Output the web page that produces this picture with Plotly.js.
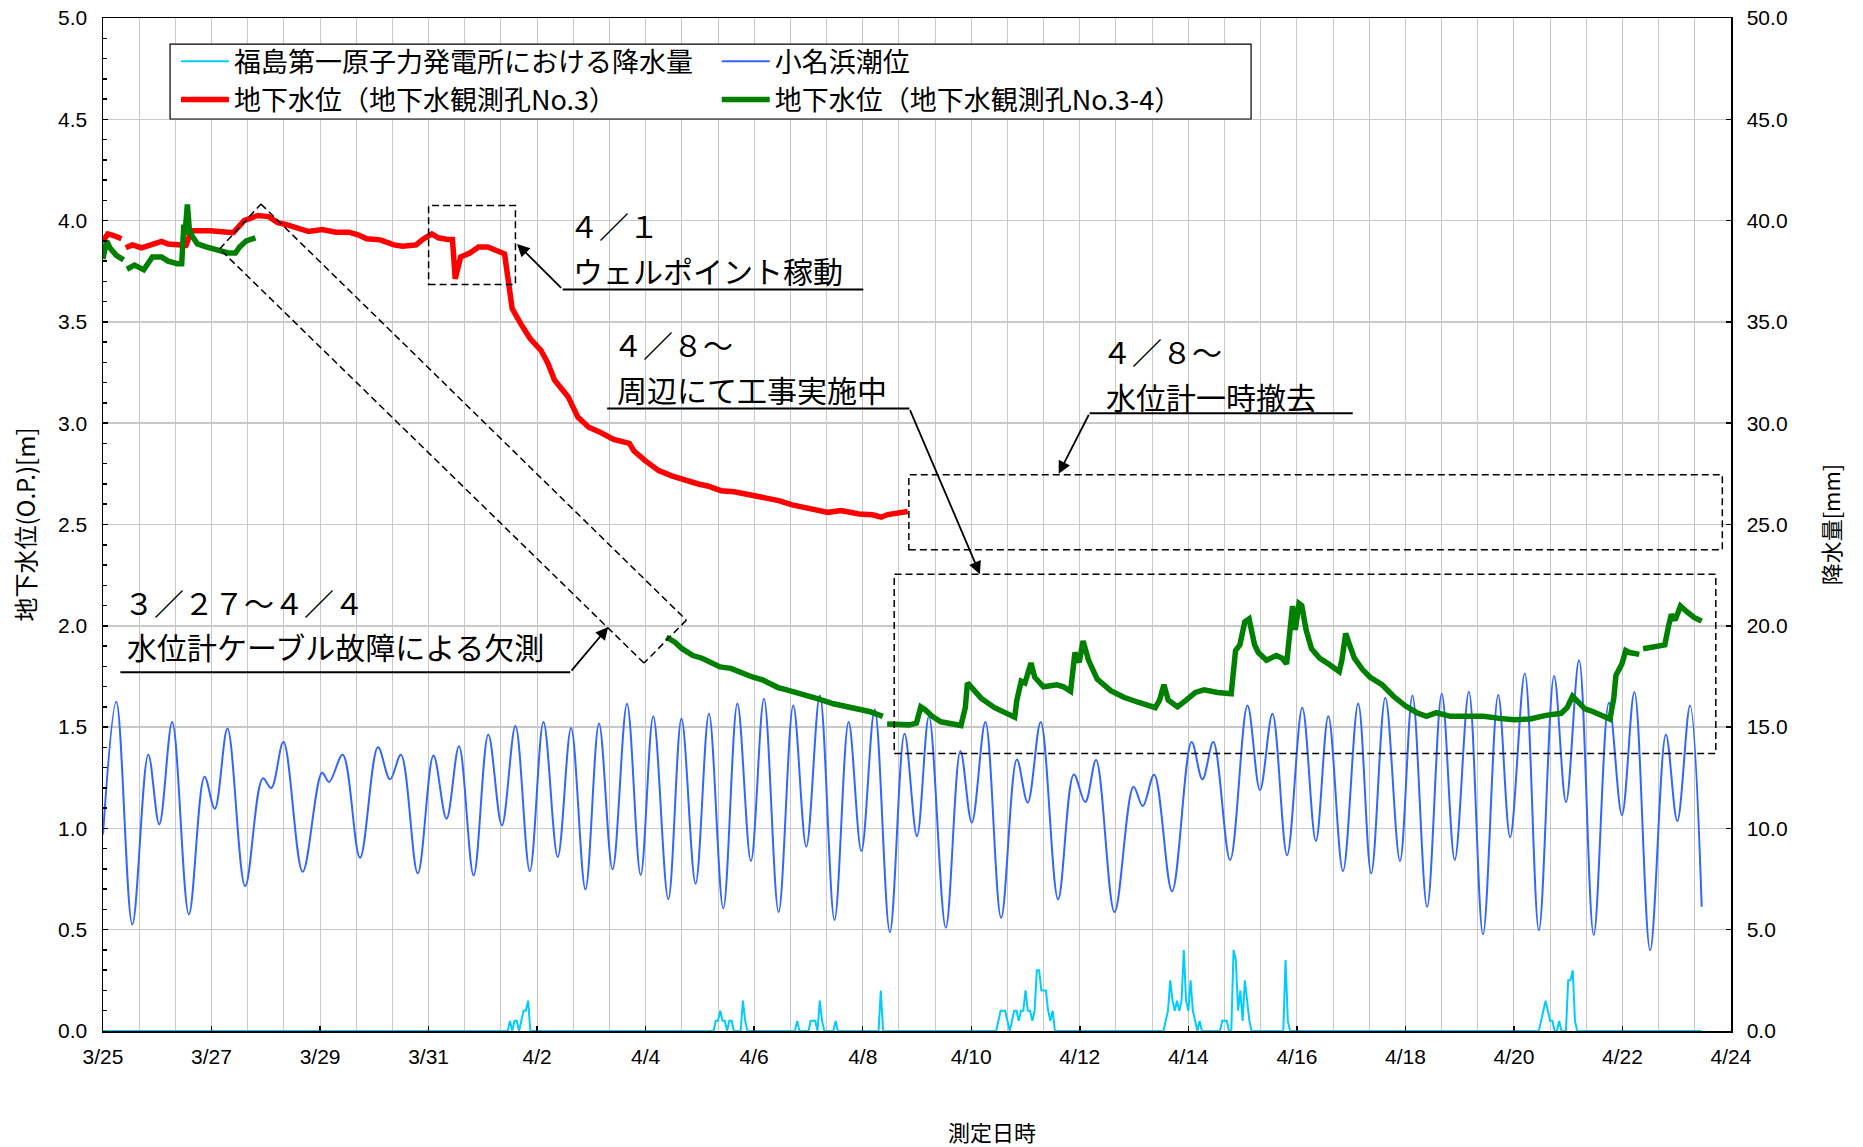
<!DOCTYPE html>
<html><head><meta charset="utf-8">
<script src="https://cdn.plot.ly/plotly-3.0.1.min.js"></script>
<style>html,body{margin:0;padding:0;background:#fff}#chart{width:1863px;height:1147px}</style>
</head><body><div id="chart"></div>
<script>
// ---- data (time in days since 2011-03-25 00:00, rain in hours) ----
const xTickDays = [0,2,4,6,8,10,12,14,16,18,20,22,24,26,28,30];
const xTickLabels = ['3/25','3/27','3/29','3/31','4/2','4/4','4/6','4/8','4/10','4/12','4/14','4/16','4/18','4/20','4/22','4/24'];

const rainHour = [0,
 179,180,181,182,183,184,185,186,187,188,189,
 270,271,272,273,274,275,276,277,278,279,282,283,284,285,
 306,307,308,312,313,314,315,316,317,318,319,323,324,325,
 343,344,345,
 395,396,397,398,399,400,401,402,403,404,405,406,407,408,409,410,411,412,413,414,415,416,417,418,419,420,421,
 469,470,471,472,473,474,475,476,477,478,479,480,481,482,483,484,485,486,
 494,495,496,497,498,499,500,501,502,503,504,505,506,507,508,
 522,523,524,525,
 635,636,637,638,639,640,641,642,643,644,645,646,647,648,649,650,651,652,
 707];
const rainMm = [0,
 0,0.5,0,0.5,0.5,0,0.5,1.0,1.0,1.5,0,
 0,0.5,0.5,1.0,0.5,0.5,0,0.5,0.5,0,0,1.5,0.5,0,
 0,0.5,0,0,0.5,0.5,0.5,0,1.5,0.5,0,0,0.5,0,
 0,2.0,0,
 0,0.5,1.0,1.0,1.0,0.5,0,0.5,1.0,1.0,0.5,1.0,1.0,2.0,1.0,1.0,0.5,1.0,3.0,3.0,2.0,2.0,2.0,1.0,0.5,1.0,0,
 0,0.5,1.0,2.5,1.5,1.0,1.5,1.0,1.5,4.0,1.5,1.0,2.5,1.0,0.5,0,0.5,0,
 0,0.5,0.5,0.5,0,0,4.0,3.5,1.0,2.0,0.5,2.5,1.5,0.5,0,
 0,3.5,0.5,0,
 0,0.5,1.0,1.5,1.0,0.5,0.5,0,0,0.5,0,0,0,2.5,2.5,3.0,0.5,0,
 0];

// tide: successive highs and lows
const tideDay = [0,0.245,0.54,0.834,1.037,1.276,1.583,1.871,2.06,2.294,2.62,2.945,3.10,3.325,3.68,4.037,4.166,4.417,4.736,5.067,
 5.29,5.49,5.80,6.09,6.33,6.56,6.83,7.10,7.35,7.60,7.865,8.117,8.38,8.626,8.89,9.14,9.39,9.656,9.908,10.14,
 10.417,10.66,10.92,11.166,11.43,11.69,11.94,12.18,12.45,12.72,12.96,13.21,13.48,13.74,13.975,14.22,14.50,14.77,15.0,15.22,
 15.53,15.80,16.01,16.26,16.55,16.84,17.04,17.28,17.60,17.89,18.10,18.30,18.64,18.99,19.16,19.37,19.70,20.06,20.26,20.46,
 20.77,21.09,21.32,21.55,21.82,22.10,22.35,22.58,22.85,23.13,23.37,23.63,23.90,24.13,24.40,24.67,24.91,25.17,25.43,25.71,
 25.93,26.20,26.46,26.74,26.96,27.2,27.47,27.75,27.99,28.22,28.51,28.80,29.01,29.245,29.46];
const tideLevel = [0.97,1.625,0.526,1.365,1.02,1.525,0.576,1.255,1.097,1.493,0.715,1.247,1.199,1.426,0.786,1.275,1.229,1.363,0.855,1.40,
 1.242,1.363,0.778,1.36,1.048,1.406,0.768,1.464,1.015,1.505,0.789,1.525,0.859,1.495,0.699,1.518,0.798,1.615,0.77,1.554,
 0.65,1.543,0.727,1.566,0.605,1.617,0.839,1.64,0.587,1.607,0.91,1.656,0.548,1.525,0.888,1.587,0.488,1.467,0.962,1.554,
 0.51,1.382,1.028,1.525,0.559,1.34,1.127,1.525,0.65,1.266,1.13,1.337,0.587,1.206,1.11,1.265,0.69,1.426,1.242,1.426,
 0.844,1.607,1.188,1.566,0.868,1.595,0.9375,1.554,0.789,1.617,0.778,1.645,0.839,1.656,0.613,1.664,0.844,1.674,0.477,1.658,
 0.957,1.765,0.497,1.752,1.13,1.83,0.474,1.62,1.066,1.673,0.398,1.464,1.036,1.607,0.613];

const well3Day = [0,0.09,0.21,0.34,null,0.42,0.54,0.71,0.83,0.95,1.08,1.2,1.41,1.53,1.60,1.65,1.98,2.23,2.40,2.60,2.85,3.05,3.22,3.38,3.55,
 3.79,4.04,4.29,4.53,4.70,4.86,5.11,5.36,5.52,5.77,5.89,6.06,6.18,6.35,6.44,6.49,6.59,6.76,6.92,7.09,7.25,7.40,7.46,7.54,
 7.70,7.87,8.07,8.20,8.32,8.57,8.75,8.95,9.17,9.41,9.70,9.78,9.99,10.24,10.48,10.73,10.97,11.14,11.39,11.63,11.96,12.21,
 12.45,12.70,13.03,13.36,13.60,13.93,14.18,14.34,14.46,14.67,14.83];
const well3Level = [3.90,3.934,3.925,3.91,null,3.866,3.88,3.866,3.877,3.89,3.897,3.884,3.88,3.878,3.93,3.95,3.95,3.94,3.94,4.0,4.025,4.02,3.99,3.98,3.967,
 3.946,3.956,3.943,3.943,3.93,3.91,3.905,3.88,3.874,3.88,3.907,3.934,3.915,3.907,3.907,3.713,3.82,3.84,3.87,3.87,3.856,3.836,3.72,3.566,
 3.49,3.418,3.36,3.295,3.213,3.131,3.03,2.98,2.954,2.92,2.90,2.864,2.815,2.766,2.74,2.716,2.70,2.69,2.667,2.662,2.643,2.634,
 2.618,2.597,2.58,2.56,2.569,2.552,2.548,2.536,2.549,2.56,2.564];

const well34Day = [0,0.066,0.13,0.24,0.38,null,
 0.44,0.58,0.75,0.91,1.08,1.20,1.37,1.45,1.49,1.51,1.555,1.59,1.65,1.74,1.90,2.07,2.15,2.31,2.44,2.52,2.64,2.81,null,
 10.38,10.54,10.67,10.87,11.04,11.20,11.37,11.57,11.78,11.98,12.15,12.44,12.60,12.89,13.18,13.46,13.63,13.88,14.12,14.37,null,
 14.45,14.70,14.86,14.99,15.07,15.15,15.28,15.44,15.69,15.81,15.89,15.93,16.01,16.18,16.43,16.67,16.80,16.84,16.92,16.99,
 17.05,17.10,17.17,17.33,17.58,17.70,17.83,17.91,17.99,18.06,18.16,18.32,18.57,18.81,19.06,19.39,19.47,19.55,19.63,19.80,
 19.96,20.13,20.29,20.54,20.79,20.87,20.95,21.04,21.12,21.22,21.29,21.44,21.62,21.73,21.81,21.87,21.92,21.97,22.04,22.09,
 22.17,22.27,22.42,22.56,22.78,22.83,22.90,22.96,23.06,23.21,23.35,23.57,23.78,24.0,24.21,24.39,24.57,24.83,25.15,25.44,
 25.73,26.01,26.30,26.59,26.87,26.98,27.08,27.20,27.31,27.45,27.63,27.77,27.84,27.88,27.99,28.06,28.13,28.31,null,
 28.38,28.60,28.78,28.85,28.90,28.97,29.07,29.18,29.32,29.46];
const well34Level = [3.81,3.90,3.865,3.83,3.806,null,
 3.76,3.78,3.757,3.82,3.82,3.80,3.787,3.787,3.98,3.93,4.08,3.96,3.92,3.885,3.87,3.86,3.85,3.84,3.84,3.87,3.90,3.915,null,
 1.944,1.919,1.887,1.853,1.84,1.82,1.797,1.79,1.765,1.746,1.733,1.695,1.684,1.658,1.639,1.615,1.605,1.586,1.577,1.553,null,
 1.515,1.511,1.511,1.52,1.60,1.586,1.553,1.526,1.515,1.508,1.596,1.718,1.695,1.643,1.596,1.568,1.549,1.633,1.727,1.718,
 1.784,1.816,1.746,1.699,1.709,1.699,1.677,1.868,1.82,1.925,1.831,1.737,1.68,1.647,1.624,1.596,1.633,1.709,1.633,1.60,
 1.633,1.671,1.684,1.671,1.665,1.878,1.906,2.019,2.034,1.906,1.868,1.83,1.853,1.84,1.812,1.962,2.098,1.98,2.11,2.10,
 1.98,1.887,1.84,1.816,1.774,1.831,1.962,1.915,1.84,1.784,1.746,1.709,1.652,1.605,1.571,1.553,1.571,1.553,1.553,1.553,
 1.543,1.536,1.54,1.558,1.568,1.596,1.652,1.615,1.59,1.577,1.558,1.54,1.643,1.756,1.812,1.878,1.868,1.859,null,
 1.887,1.897,1.906,2.0,2.056,2.028,2.098,2.071,2.041,2.023];

// ---- helpers ----
const BASE = Date.UTC(2011, 2, 25);
function toDate(day) {
  if (day === null) return null;
  return new Date(BASE + day * 86400000).toISOString().slice(0, 19).replace('T', ' ');
}
const JP = '"Noto Sans CJK JP", "Noto Sans", sans-serif';
const NUM = '"Liberation Sans", Arial, sans-serif';

const traces = [
  {name:'福島第一原子力発電所における降水量', x: rainHour.map(h => toDate(h / 24)), y: rainMm,
   yaxis:'y2', mode:'lines', line:{color:'#00CCFF', width:2}, legend:'legend'},
  {name:'小名浜潮位', x: tideDay.map(toDate), y: tideLevel, mode:'lines',
   line:{color:'#3366FF', width:2, shape:'spline', smoothing:1}, legend:'legend2'},
  {name:'地下水位（地下水観測孔No.3）', x: well3Day.map(toDate), y: well3Level, mode:'lines',
   line:{color:'#FF0000', width:5.5}, connectgaps:false, legend:'legend'},
  {name:'地下水位（地下水観測孔No.3-4）', x: well34Day.map(toDate), y: well34Level, mode:'lines',
   line:{color:'#008000', width:5.5}, connectgaps:false, legend:'legend2'}
];

const dashLine = {color:'#000', width:1.5, dash:'7px,4px'};
function rectShape(d0, d1, v0, v1) {
  return {type:'rect', xref:'x', yref:'y', x0:toDate(d0), x1:toDate(d1), y0:v0, y1:v1, line:dashLine, layer:'above'};
}
function lineShape(d0, v0, d1, v1, style) {
  return {type:'line', xref:'x', yref:'y', x0:toDate(d0), x1:toDate(d1), y0:v0, y1:v1, line:style, layer:'above'};
}
const solid = {color:'#000', width:2};

const shapes = [
  // legend frame
  {type:'rect', xref:'paper', yref:'paper', x0:0.0412, x1:0.7052, y0:0.9003, y1:0.9743,
   line:{color:'#000', width:1.2}, fillcolor:'#fff', layer:'above'},
  rectShape(6.0, 7.6, 3.685, 4.074),
  rectShape(14.85, 29.84, 2.375, 2.745),
  rectShape(14.58, 29.72, 1.37, 2.254),
  // rotated dashed frame
  lineShape(2.15, 3.86, 2.91, 4.082, dashLine),
  lineShape(2.91, 4.082, 10.75, 2.028, dashLine),
  lineShape(10.75, 2.028, 9.97, 1.816, dashLine),
  lineShape(9.97, 1.816, 2.15, 3.86, dashLine),
  // underlines
  lineShape(8.47, 3.66, 14.01, 3.66, solid),
  lineShape(9.29, 3.072, 14.86, 3.072, solid),
  lineShape(18.18, 3.049, 23.03, 3.049, solid),
  lineShape(0.32, 1.771, 8.61, 1.771, solid)
];

function note(day, v, s) {
  return {xref:'x', yref:'y', x:toDate(day), y:v, text:s, showarrow:false, xanchor:'left', yanchor:'middle',
          font:{family:JP, size:30, color:'#000'}};
}
function arrow(hd, hv, td, tv) {
  return {xref:'x', yref:'y', axref:'x', ayref:'y', x:toDate(hd), y:hv, ax:toDate(td), ay:tv, text:'',
          showarrow:true, arrowhead:2, arrowsize:1.4, arrowwidth:1.8, arrowcolor:'#000', standoff:0, startstandoff:0};
}
const annotations = [
  note(8.55, 3.976, '４／１'),
  note(8.62, 3.758, 'ウェルポイント稼動'),
  arrow(7.63, 3.885, 8.47, 3.66),
  note(9.37, 3.389, '４／８～'),
  note(9.43, 3.171, '周辺にて工事実施中'),
  arrow(16.16, 2.255, 14.86, 3.072),
  note(18.37, 3.354, '４／８～'),
  note(18.45, 3.136, '水位計一時撤去'),
  arrow(17.61, 2.75, 18.18, 3.049),
  note(0.35, 2.118, '３／２７～４／４'),
  note(0.40, 1.900, '水位計ケーブル故障による欠測'),
  arrow(9.31, 1.994, 8.61, 1.771),
  // x-axis title
  {xref:'paper', yref:'paper', x:0.546, y:-0.0985, text:'測定日時', showarrow:false, xanchor:'center', yanchor:'middle',
   font:{family:JP, size:22, color:'#000'}}
];

const gridC = '#c8c8c8';
const layout = {
  width:1863, height:1147,
  margin:{l:103, r:132, t:18, b:116},
  paper_bgcolor:'#fff', plot_bgcolor:'#fff',
  font:{family:JP, color:'#000'},
  showlegend:true,
  xaxis:{type:'date', range:[toDate(0), toDate(30)],
    tickmode:'array', tickvals:xTickDays.map(toDate), ticktext:xTickLabels,
    ticks:'inside', ticklen:5, tickcolor:'#000', tickwidth:1.5,
    showgrid:true, gridcolor:gridC, gridwidth:1,
    minor:{tickmode:'linear', tick0:toDate(0), dtick:16*3600000, showgrid:true, gridcolor:gridC, gridwidth:1, ticks:''},
    showline:true, linecolor:'#000', linewidth:1.5, mirror:true, zeroline:false,
    tickfont:{family:NUM, size:21, color:'#000'}, ticklabelstandoff:6},
  xaxis2:{type:'date', overlaying:'x', anchor:'y', range:[toDate(0), toDate(30)],
    tickmode:'linear', tick0:toDate(0), dtick:86400000, ticks:'inside', ticklen:5, tickcolor:'#000', tickwidth:1.5,
    showticklabels:false, showgrid:false, showline:false, zeroline:false},
  yaxis:{range:[0,5], tickmode:'linear', tick0:0, dtick:0.5, tickformat:'.1f',
    ticks:'inside', ticklen:5, tickcolor:'#000', tickwidth:1.5,
    minor:{dtick:0.1, ticks:'inside', ticklen:4, tickcolor:'#000', showgrid:false},
    showgrid:true, gridcolor:gridC, gridwidth:1.5, showline:true, linecolor:'#000', linewidth:1.5, zeroline:false,
    tickfont:{family:NUM, size:21, color:'#000'}, ticklabelstandoff:10,
    title:{text:'地下水位(O.P.)[m]', font:{family:JP, size:24, color:'#000'}, standoff:15}},
  yaxis2:{range:[0,50], tickmode:'linear', tick0:0, dtick:5, tickformat:'.1f', overlaying:'y', side:'right',
    ticks:'inside', ticklen:5, tickcolor:'#000', tickwidth:1.5,
    showgrid:false, showline:true, linecolor:'#000', linewidth:1.5, zeroline:false,
    tickfont:{family:NUM, size:21, color:'#000'}, ticklabelstandoff:10,
    title:{text:'降水量[mm]', font:{family:JP, size:22, color:'#000'}, standoff:38}},
  legend:{x:0.0448, y:0.981, xanchor:'left', yanchor:'top', orientation:'v', bgcolor:'rgba(0,0,0,0)',
    borderwidth:0, itemwidth:48, font:{family:JP, size:27, color:'#000'}, traceorder:'normal'},
  legend2:{x:0.377, y:0.981, xanchor:'left', yanchor:'top', orientation:'v', bgcolor:'rgba(0,0,0,0)',
    borderwidth:0, itemwidth:48, font:{family:JP, size:27, color:'#000'}, traceorder:'normal'},
  shapes:shapes,
  annotations:annotations
};

Plotly.newPlot('chart', traces, layout, {displayModeBar:false, staticPlot:true});
</script>
</body></html>
